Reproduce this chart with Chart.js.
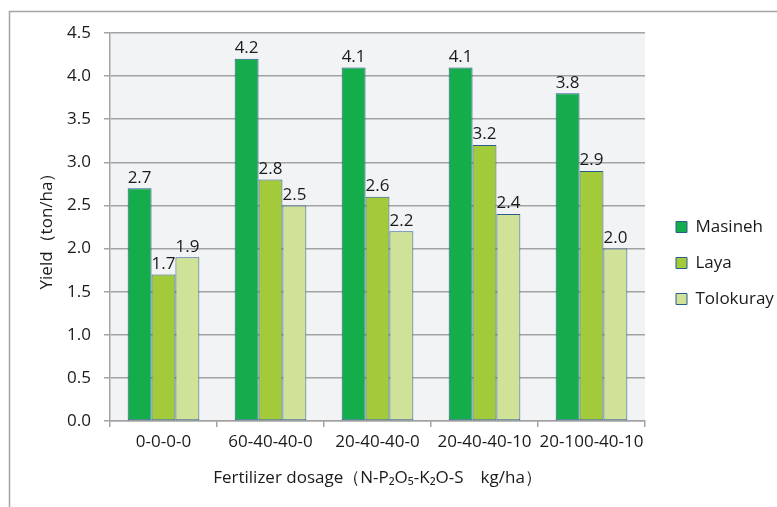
<!DOCTYPE html>
<html lang="en">
<head>
<meta charset="UTF-8">
<title>Yield by fertilizer dosage</title>
<script src="https://cdn.jsdelivr.net/npm/chart.js"></script>
<style>
    html, body { margin: 0; padding: 0; background: #fff; }
</style>
</head>
<body>
<canvas id="graficoBarras" width="777" height="507"></canvas>
<script>
    // dosagens de fertilizante (N-P2O5-K2O-S kg/ha)
    const dosagens = ['0-0-0-0', '60-40-40-0', '20-40-40-0', '20-40-40-10', '20-100-40-10']

    // produtividade (ton/ha) por variedade
    const masineh = [2.7, 4.2, 4.1, 4.1, 3.8]
    const laya = [1.7, 2.8, 2.6, 3.2, 2.9]
    const tolokuray = [1.9, 2.5, 2.2, 2.4, 2.0]

    const yMin = 0
    const yMax = 4.5
    const yPasso = 0.5

    const fonte = '"Open Sans", "Noto Sans", sans-serif'
    const tamFonte = 17
    const corTexto = '#1a1a1a'
    const corGrade = '#a3a3a3'
    const corBorda = '#2b5d8c'

    // moldura cinza e fundo da área de plotagem
    const fundo = {
        id: 'fundo',
        beforeDraw(chart) {
            const { ctx, chartArea } = chart
            ctx.save()
            ctx.fillStyle = '#f2f3f5'
            ctx.fillRect(chartArea.left, chartArea.top, chartArea.right - chartArea.left, chartArea.bottom - chartArea.top)
            ctx.strokeStyle = corGrade
            ctx.lineWidth = 1.5
            ctx.beginPath()
            ctx.moveTo(9.5, chart.height + 2)
            ctx.lineTo(9.5, 11.5)
            ctx.lineTo(chart.width + 2, 11.5)
            ctx.stroke()
            ctx.restore()
        }
    }

    // valores escritos em cima de cada barra
    const rotulos = {
        id: 'rotulos',
        afterDatasetsDraw(chart) {
            const { ctx } = chart
            ctx.save()
            ctx.font = tamFonte + 'px ' + fonte
            ctx.fillStyle = corTexto
            ctx.textAlign = 'center'
            ctx.textBaseline = 'bottom'
            chart.data.datasets.forEach((ds, i) => {
                chart.getDatasetMeta(i).data.forEach((bar, j) => {
                    ctx.fillText(ds.data[j].toFixed(1), bar.x, bar.y - 2)
                })
            })
            ctx.restore()
        }
    }

    // empurra a legenda um pouco para a direita e para cima
    const posLegenda = {
        id: 'posLegenda',
        afterLayout(chart) {
            chart.legend.left += 12
            chart.legend.right += 12
            chart.legend.top -= 7
            chart.legend.bottom -= 7
        }
    }

    const ctx = document.getElementById('graficoBarras')

    new Chart(ctx, {
        type: 'bar',
        data: {
            labels: dosagens,
            datasets: [
                { label: 'Masineh', data: masineh, backgroundColor: '#15ad4b' },
                { label: 'Laya', data: laya, backgroundColor: '#a3ca3a' },
                { label: 'Tolokuray', data: tolokuray, backgroundColor: '#d0e297' }
            ].map(ds => Object.assign(ds, { borderColor: corBorda, borderWidth: 1, borderSkipped: false }))
        },
        options: {
            responsive: false,
            animation: false,
            maintainAspectRatio: false,
            categoryPercentage: 0.67,
            barPercentage: 1,
            layout: { padding: { top: 33, left: 10, right: 12, bottom: 0 } },
            plugins: {
                tooltip: { enabled: false },
                legend: {
                    position: 'right',
                    maxWidth: 120,
                    labels: {
                        boxWidth: 11,
                        boxHeight: 11,
                        padding: 19,
                        color: corTexto,
                        font: { family: fonte, size: tamFonte }
                    }
                }
            },
            scales: {
                x: {
                    afterFit(scale) { scale.height = 86 },
                    grid: { offset: true, drawOnChartArea: false, tickLength: 6, color: corGrade, lineWidth: 1.5 },
                    border: { color: corGrade, width: 1.5 },
                    ticks: {
                        color: corTexto,
                        padding: 5,
                        maxRotation: 0,
                        minRotation: 0,
                        autoSkip: false,
                        font: { family: fonte, size: tamFonte }
                    },
                    title: {
                        display: true,
                        text: 'Fertilizer dosage（N-P₂O₅-K₂O-S\u3000kg/ha）',
                        color: corTexto,
                        font: { family: fonte, size: tamFonte },
                        padding: { top: 4, bottom: 19 }
                    }
                },
                y: {
                    min: yMin,
                    max: yMax,
                    afterFit(scale) { scale.width = 100 },
                    grid: { color: corGrade, lineWidth: 1.5, tickLength: 6 },
                    border: { color: corGrade, width: 1.5 },
                    ticks: {
                        stepSize: yPasso,
                        color: corTexto,
                        padding: 13,
                        font: { family: fonte, size: tamFonte },
                        callback: v => v.toFixed(1)
                    },
                    title: {
                        display: true,
                        text: 'Yield（ton/ha）',
                        color: corTexto,
                        font: { family: fonte, size: tamFonte },
                        padding: { top: 27, bottom: 4 }
                    }
                }
            }
        },
        plugins: [fundo, rotulos, posLegenda]
    })
</script>
</body>
</html>
